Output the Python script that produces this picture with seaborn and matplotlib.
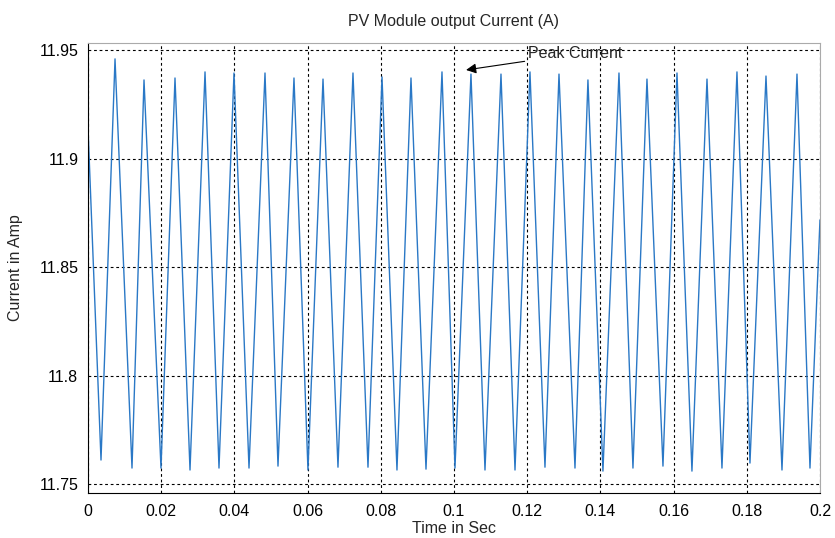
# Import libraries
import pandas as pd
import matplotlib
matplotlib.use("Agg")
import matplotlib.pyplot as plt
import seaborn as sns

# Values (time in s, current in A)
start_point = (0.0, 11.914)
end_point = (0.2, 11.8717)

trough_times = [0.00355, 0.01202, 0.01994, 0.02787, 0.03579, 0.04399, 0.05191, 0.0601,
                0.0683, 0.0765, 0.08442, 0.09235, 0.10027, 0.10847, 0.11667, 0.12486,
                0.13306, 0.1407, 0.1489, 0.1571, 0.16502, 0.17322, 0.18087, 0.18962, 0.19727]
trough_values = [11.7611, 11.7574, 11.7574, 11.7565, 11.7574, 11.7574, 11.7583, 11.7565,
                 11.7578, 11.7578, 11.7565, 11.7569, 11.7574, 11.7565, 11.7565, 11.7578,
                 11.7574, 11.756, 11.7574, 11.7583, 11.756, 11.7574, 11.7597, 11.7565, 11.7574]

peak_times = [0.00738, 0.0153, 0.02377, 0.03197, 0.03989, 0.04836, 0.05628, 0.06421,
              0.0724, 0.08033, 0.08825, 0.09672, 0.10464, 0.11284, 0.12076, 0.12869,
              0.1366, 0.14508, 0.15273, 0.16093, 0.16913, 0.17732, 0.18525, 0.19372]
peak_values = [11.9459, 11.9362, 11.9371, 11.9399, 11.9394, 11.9394, 11.9371, 11.9366,
               11.9394, 11.9376, 11.9371, 11.9399, 11.9389, 11.9389, 11.9399, 11.9389,
               11.9362, 11.9394, 11.9366, 11.9394, 11.9366, 11.9399, 11.938, 11.9389]

x_ticks = [0, 0.02, 0.04, 0.06, 0.08, 0.1, 0.12, 0.14, 0.16, 0.18, 0.2]
x_tick_labels = ["0", "0.02", "0.04", "0.06", "0.08", "0.1", "0.12", "0.14", "0.16", "0.18", "0.2"]
y_ticks = [11.75, 11.8, 11.85, 11.9, 11.95]
y_tick_labels = ["11.75", "11.8", "11.85", "11.9", "11.95"]

# Interleave troughs and peaks into one waveform
times = [start_point[0]]
currents = [start_point[1]]
for i in range(len(trough_times)):
    times.append(trough_times[i])
    currents.append(trough_values[i])
    if i < len(peak_times):
        times.append(peak_times[i])
        currents.append(peak_values[i])
times.append(end_point[0])
currents.append(end_point[1])
df = pd.DataFrame({"Time": times, "Current": currents})

# Plot
sns.set_style("white")
plt.rcParams['font.family'] = ['Liberation Sans', 'DejaVu Sans']

fig = plt.figure(figsize=(8.35, 5.38), dpi=100)
ax = fig.add_axes([0.1054, 0.0836, 0.8766, 0.8364])

sns.lineplot(data=df, x="Time", y="Current", sort=False, estimator=None,
             color="#2a78c6", linewidth=1.0, ax=ax)

ax.set_xlim(0, 0.2)
ax.set_ylim(11.7459, 11.9532)
ax.set_xticks(x_ticks)
ax.set_xticklabels(x_tick_labels)
ax.set_yticks(y_ticks)
ax.set_yticklabels(y_tick_labels)
ax.tick_params(direction="in", length=5, width=0.8, labelsize=11.5, colors="black",
               top=False, right=False)
ax.tick_params(axis="x", pad=8)
ax.tick_params(axis="y", pad=7)
ax.grid(True, linestyle=(0, (2.5, 2.5)), color="black", linewidth=0.8)

for side in ["left", "bottom"]:
    ax.spines[side].set_color("black")
    ax.spines[side].set_linewidth(0.8)
for side in ["top", "right"]:
    ax.spines[side].set_color("#aaaaaa")
    ax.spines[side].set_linewidth(0.8)

ax.set_title("PV Module output Current (A)", fontsize=11.5, pad=12)
ax.set_xlabel("Time in Sec", fontsize=11.5, labelpad=1)
ax.set_ylabel("Current in Amp", fontsize=11.5, labelpad=12)

# Peak annotation
ax.annotate("Peak Current", xy=(0.1033, 11.9408), xytext=(0.1202, 11.9482),
            fontsize=11.5, va="center", ha="left",
            arrowprops=dict(arrowstyle="-|>", color="black", lw=0.8, mutation_scale=15,
                            shrinkA=0, shrinkB=0))

plt.savefig("out.png", dpi=100)
